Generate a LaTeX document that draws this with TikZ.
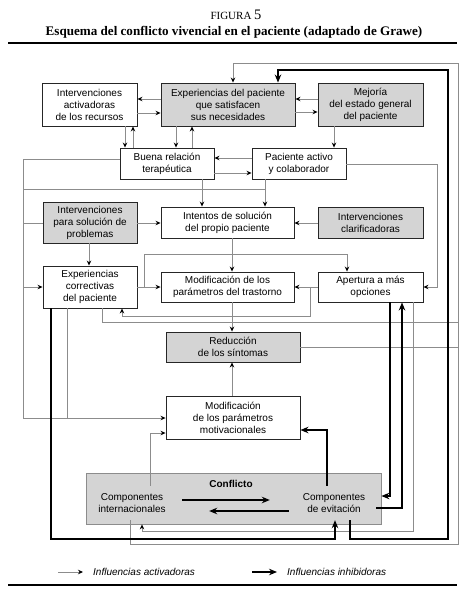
\documentclass[tikz,border=0pt]{standalone}
\usepackage{fontspec}
\setmainfont{Liberation Sans}
\newfontfamily\seriffont{Liberation Serif}
\usetikzlibrary{arrows.meta,calc}
\definecolor{boxgray}{RGB}{212,212,212}
\definecolor{linegray}{RGB}{140,140,140}
\begin{document}
\begin{tikzpicture}[x=1pt,y=-1pt,
  box/.style={draw=black!85, line width=0.9pt, align=center, inner sep=0pt,
    font=\fontsize{10}{12}\selectfont},
  gbox/.style={box, fill=boxgray},
  act/.style={draw=linegray, line width=0.8pt},
  actarr/.style={act, -{Stealth[length=5pt,width=4.5pt,color=black]}},
  inh/.style={draw=black, line width=1.8pt},
  inharr/.style={inh, -{Stealth[length=8pt,width=6.5pt]}},
  txt/.style={align=center, inner sep=0pt, font=\fontsize{10}{12}\selectfont}]
\useasboundingbox (0,0) rectangle (472,597);
% title
\node (fig) at (236,15) {\seriffont\fontsize{11}{12}\selectfont FIGURA \fontsize{14.5}{14}\selectfont 5};
\node (tit) at (234,32) {\seriffont\bfseries\fontsize{13.1}{15}\selectfont Esquema del conflicto vivencial en el paciente (adaptado de Grawe)};
\draw[line width=1.3pt] (8,43) coordinate (r1a) -- (457,43) coordinate (r1b);
\draw[line width=1.3pt] (8,585) coordinate (r2a) -- (457,585) coordinate (r2b);
% boxes
\node[box, minimum width=95, minimum height=43] (ia) at (89.5,104.5) {Intervenciones\\activadoras\\de los recursos};
\node[gbox, minimum width=134, minimum height=43] (es) at (228,104.5) {Experiencias del paciente\\que satisfacen\\sus necesidades};
\node[gbox, minimum width=105, minimum height=43] (me) at (370.5,104.5) {Mejoría\\del estado general\\del paciente};
\node[box, minimum width=94, minimum height=31] (br) at (167,163.5) {Buena relación\\terapéutica};
\node[box, minimum width=94, minimum height=31] (pa) at (299,163.5) {Paciente activo\\y colaborador};
\node[gbox, minimum width=94, minimum height=41] (ip) at (90,222.5) {Intervenciones\\para solución de\\problemas};
\node[box, minimum width=133, minimum height=31] (in) at (227.5,222.5) {Intentos de solución\\del propio paciente};
\node[gbox, minimum width=105, minimum height=31] (ic) at (370.5,222.5) {Intervenciones\\clarificadoras};
\node[box, minimum width=94, minimum height=42] (ec) at (90,287) {Experiencias\\correctivas\\del paciente};
\node[box, minimum width=133, minimum height=30] (mt) at (227.5,287) {Modificación de los\\parámetros del trastorno};
\node[box, minimum width=105, minimum height=30] (ap) at (370.5,287) {Apertura a más\\opciones};
\node[gbox, minimum width=134, minimum height=30] (rs) at (233,347) {Reducción\\de los síntomas};
\node[box, minimum width=134, minimum height=43] (mm) at (233,417.5) {Modificación\\de los parámetros\\motivacionales};
% conflict box
\node[draw=linegray, fill=boxgray, line width=0.8pt, minimum width=295, minimum height=51, inner sep=0pt] (cf) at (233.5,498.5) {};
\node[txt, font=\bfseries\fontsize{10}{12}\selectfont] (cfl) at (231,484) {Conflicto};
\node[txt, minimum width=76, minimum height=34] (ci) at (132,503) {Componentes\\internacionales};
\node[txt, minimum width=84, minimum height=34] (cv) at (334,503) {Componentes\\de evitación};
% --- activating connectors
\draw[actarr] (es.west|-0,99) -- (ia.east|-0,99);
\draw[actarr] (ia.east|-0,113) -- (es.west|-0,113);
\draw[actarr] (es.east|-0,112) -- (me.west|-0,112);
\draw[actarr] (me.west|-0,99) -- (es.east|-0,99);
\draw[actarr] (ia.south-|125,0) -- (br.north-|125,0);
\draw[actarr] (br.north-|133,0) -- (ia.south-|133,0);
\draw[actarr] (es.south-|176,0) -- (br.north-|176,0);
\draw[actarr] (br.north-|192,0) -- (es.south-|192,0);
\draw[actarr] (me.south-|334,0) -- (pa.north-|334,0);
\draw[actarr] (pa.west|-0,158) -- (br.east|-0,158);
\draw[actarr] (br.east|-0,173) -- (pa.west|-0,173);
\draw[actarr] (br.south-|202,0) -- (in.north-|202,0);
\draw[actarr] (pa.south-|265,0) -- (in.north-|265,0);
% left bus
\coordinate (pj) at (265,189);
\draw[actarr] (br.west|-0,159) -| (23,418) -- (mm.west|-0,418);
\draw[act] (23,189) -- (pj);
\draw[act] (ip.west|-0,223) -- (23,223);
\draw[actarr] (23,287) -- (ec.west|-0,287);
\draw[actarr] (ip.east|-0,223) -- (in.west|-0,223);
\draw[actarr] (ip.south-|89,0) -- (ec.north-|89,0);
\draw[actarr] (ic.west|-0,223) -- (in.east|-0,223);
\draw[actarr] (in.south-|232,0) -- (mt.north-|232,0);
\draw[actarr] (ec.east|-0,287) -- (mt.west|-0,287);
\draw[actarr] (ec.east-|144,287) |- (347,254) -- (ap.north-|347,0);
\draw[actarr] (pa.east|-0,164) -| (437,287) -- (ap.east|-0,287);
\draw[actarr] (ap.west|-0,287) -- (mt.east|-0,287);
\draw[actarr] (ap.west-|310,287) |- (122,316) -- (ec.south-|122,0);
\draw[actarr] (mt.south-|232,0) -- (rs.north-|232,0);
\draw[act] (ec.south-|102,0) |- (458,322);
\draw[act] (rs.east|-0,347) -- (458,347);
\draw[act] (ec.south-|67,0) -- (67,418);
\draw[actarr] (mm.north-|232,0) -- (rs.south-|232,0);
\draw[actarr] (ci.north-|150,0) |- (mm.west|-0,433);
\draw[actarr] (ap.south-|413,0) |- (142,531) -- (cf.south-|142,0);
\draw[actarr] (ci.south-|130,0) |- (458,544) |- (233,63) -- (es.north-|233,0);
% --- inhibiting connectors
\draw[inharr] (cv.south-|350,0) |- (448,539) |- (278,70) -- (es.north-|278,0);
\draw[inharr] (ec.south-|51,0) |- (335,539) -- (cv.south-|335,0);
\draw[inharr] (ap.south-|390,0) |- (cf.east|-0,496);
\draw[inharr] (cv.east|-0,508) -| (ap.south-|402,0);
\draw[inharr] (cv.north-|327,0) |- (mm.east|-0,430);
\draw[inharr] ($(ci.east|-0,500)+(12,0)$) -- ($(cv.west|-0,500)+(-22,0)$);
\draw[inharr] ($(cv.west|-0,511)+(-3,0)$) -- ($(ci.east|-0,511)+(39,0)$);
% legend
\node[anchor=west, inner sep=0pt, font=\itshape\fontsize{10}{12}\selectfont] (lga) at (93,572) {Influencias activadoras};
\node[anchor=west, inner sep=0pt, font=\itshape\fontsize{10}{12}\selectfont] (lgi) at (287,572) {Influencias inhibidoras};
\draw[actarr] ([xshift=-35pt]lga.west) -- ([xshift=-10pt]lga.west);
\draw[inharr] ([xshift=-35pt]lgi.west) -- ([xshift=-10pt]lgi.west);
\end{tikzpicture}
\end{document}
